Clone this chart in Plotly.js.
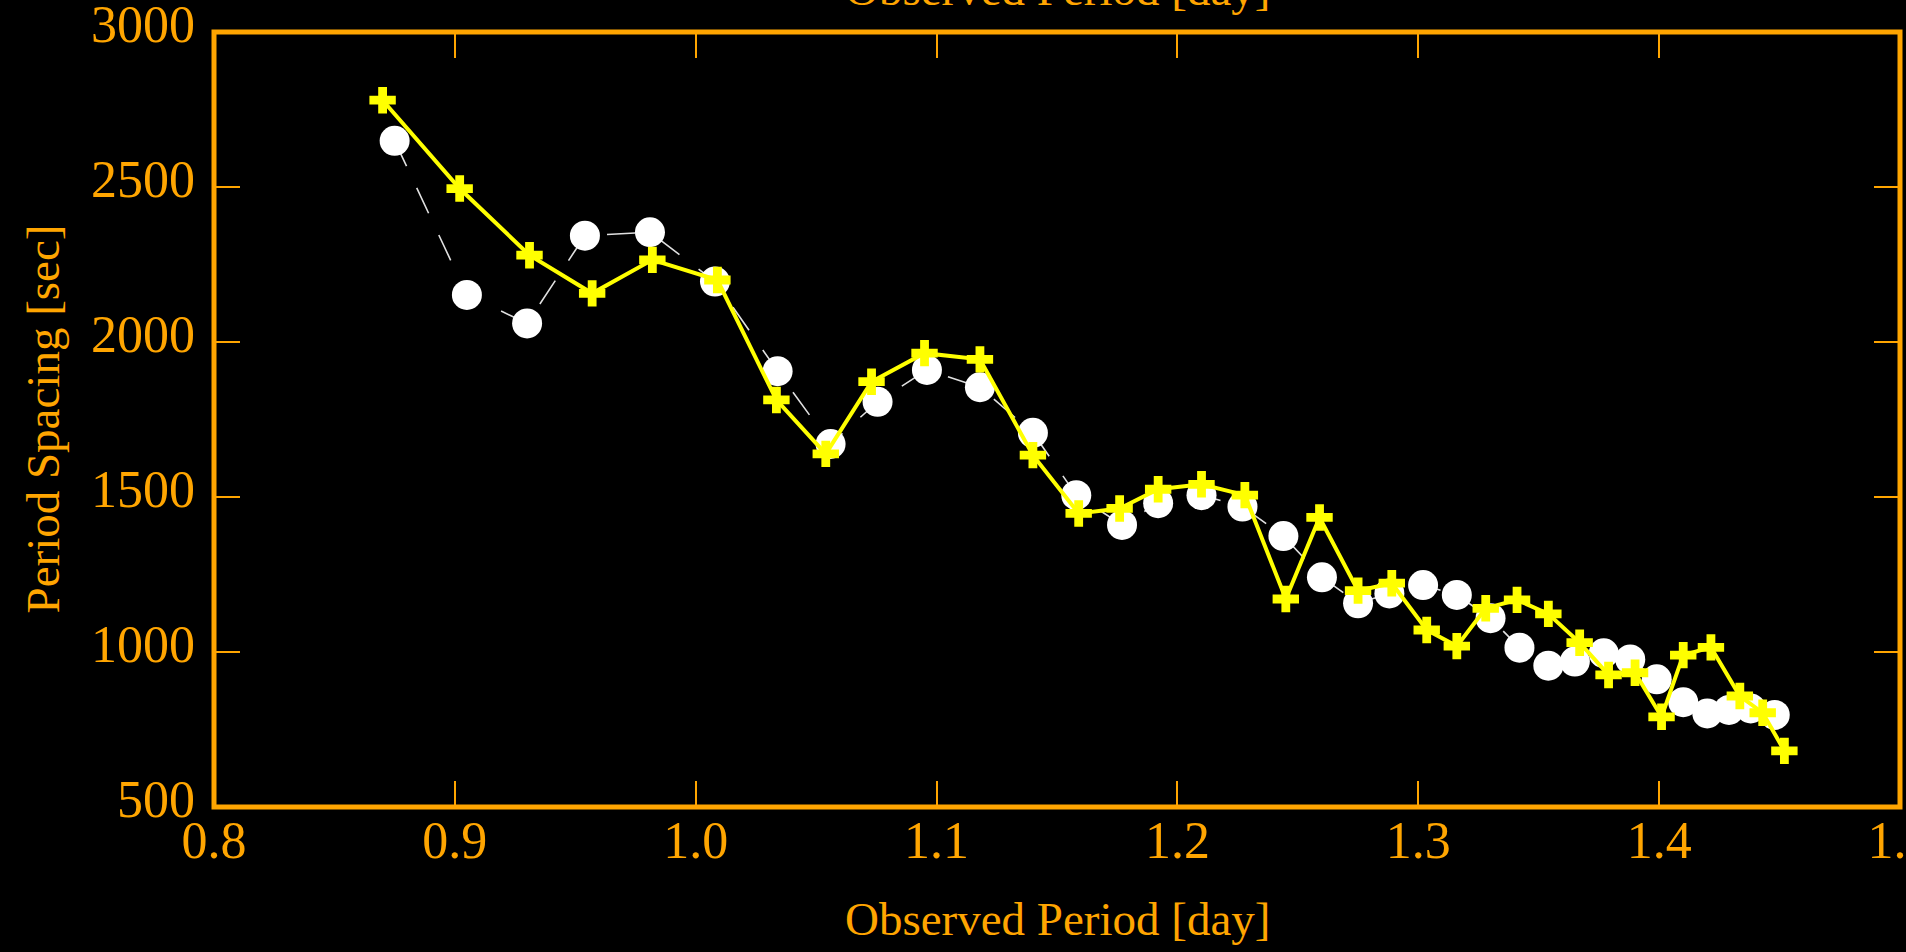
<!DOCTYPE html>
<html>
<head>
<meta charset="utf-8">
<script src="https://cdn.plot.ly/plotly-3.0.1.min.js"></script>
<style>
  html, body { margin: 0; padding: 0; background: #000; }
  #chart { width: 1906px; height: 952px; }
</style>
</head>
<body>
<div id="chart"></div>
<script>
// Observed period spacings (white circles, dashed line)
const obsPeriod = [0.875, 0.905, 0.930, 0.954, 0.981, 1.008, 1.034, 1.056, 1.0755, 1.096, 1.118, 1.140,
  1.158, 1.177, 1.192, 1.210, 1.227, 1.244, 1.260, 1.275, 1.288, 1.302, 1.316, 1.330, 1.342, 1.354,
  1.365, 1.377, 1.388, 1.399, 1.410, 1.420, 1.429, 1.438, 1.448];
const obsSpacing = [2649, 2152, 2060, 2343, 2354, 2195, 1906, 1671, 1807, 1910, 1854, 1707,
  1506, 1410, 1480, 1506, 1469, 1374, 1241, 1157, 1189, 1216, 1184, 1109, 1014, 956,
  969, 996, 976, 912, 838, 802, 813, 818, 797];

// Model period spacings (yellow plus markers, solid line)
const modelPeriod = [0.870, 0.902, 0.931, 0.957, 0.982, 1.009, 1.0335, 1.054, 1.073, 1.095, 1.118, 1.140,
  1.159, 1.176, 1.192, 1.210, 1.228, 1.245, 1.259, 1.275, 1.289, 1.3035, 1.316, 1.328, 1.341, 1.354,
  1.367, 1.379, 1.390, 1.401, 1.410, 1.4215, 1.4335, 1.443, 1.452];
const modelSpacing = [2780, 2495, 2280, 2157, 2265, 2200, 1813, 1639, 1872, 1964, 1944, 1635,
  1447, 1463, 1525, 1541, 1506, 1171, 1434, 1198, 1222, 1071, 1019, 1141, 1168, 1123,
  1030, 926, 933, 791, 990, 1015, 858, 804, 681];

const xTicks = [0.8, 0.9, 1.0, 1.1, 1.2, 1.3, 1.4, 1.5];
const xTickText = ['0.8', '0.9', '1.0', '1.1', '1.2', '1.3', '1.4', '1.5'];
const yTicks = [500, 1000, 1500, 2000, 2500, 3000];
const xTitle = 'Observed Period [day]';
const yTitle = 'Period Spacing [sec]';

const ORANGE = '#FFA500';
const FONT = '"Liberation Serif", "DejaVu Serif", serif';

const traces = [
  {
    x: obsPeriod, y: obsSpacing, type: 'scatter', mode: 'lines+markers',
    line: { color: '#e0e0e0', width: 1.6, dash: '28px,24px' },
    marker: { symbol: 'circle', size: 30, color: '#ffffff', line: { width: 0 } },
    hoverinfo: 'x+y', showlegend: false
  },
  {
    x: modelPeriod, y: modelSpacing, type: 'scatter', mode: 'lines+markers',
    line: { color: '#ffff00', width: 4 },
    marker: { symbol: 'cross', size: 22, color: '#ffff00', line: { width: 0 } },
    hoverinfo: 'x+y', showlegend: false
  }
];

const axisCommon = {
  showgrid: false, zeroline: false,
  showline: false, mirror: 'allticks',
  ticks: 'inside', ticklen: 26, tickwidth: 2, tickcolor: ORANGE,
  ticklabeloverflow: 'allow',
  tickfont: { family: FONT, size: 52, color: ORANGE }
};

const layout = {
  width: 1906, height: 952,
  paper_bgcolor: '#000000', plot_bgcolor: '#000000',
  margin: { l: 214, r: 6, t: 32, b: 145, pad: 0 },
  font: { family: FONT, color: ORANGE },
  xaxis: Object.assign({}, axisCommon, {
    range: [0.8, 1.5], tickmode: 'array', tickvals: xTicks, ticktext: xTickText,
    ticklabelstandoff: -2
  }),
  yaxis: Object.assign({}, axisCommon, {
    range: [500, 3000], tickmode: 'array', tickvals: yTicks,
    ticktext: yTicks.map(String), ticklabelstandoff: 18, ticklabelshift: -8
  }),
  shapes: [
    { type: 'rect', xref: 'paper', yref: 'paper', x0: 0, x1: 1, y0: 0, y1: 1,
      line: { color: ORANGE, width: 5 }, fillcolor: 'rgba(0,0,0,0)', layer: 'above' }
  ],
  annotations: [
    { text: xTitle, xref: 'paper', yref: 'paper', x: 0.5, y: 0, xanchor: 'center', yanchor: 'middle',
      yshift: -112, showarrow: false, font: { family: FONT, size: 47, color: ORANGE } },
    { text: xTitle, xref: 'paper', yref: 'paper', x: 0.5, y: 1, xanchor: 'center', yanchor: 'middle',
      yshift: 43, showarrow: false, font: { family: FONT, size: 47, color: ORANGE } },
    { text: yTitle, xref: 'paper', yref: 'paper', x: 0, y: 0.5, xanchor: 'center', yanchor: 'middle',
      xshift: -172, textangle: -90, showarrow: false, font: { family: FONT, size: 47, color: ORANGE } }
  ]
};

Plotly.newPlot('chart', traces, layout, { displayModeBar: false, responsive: false });
</script>
</body>
</html>
